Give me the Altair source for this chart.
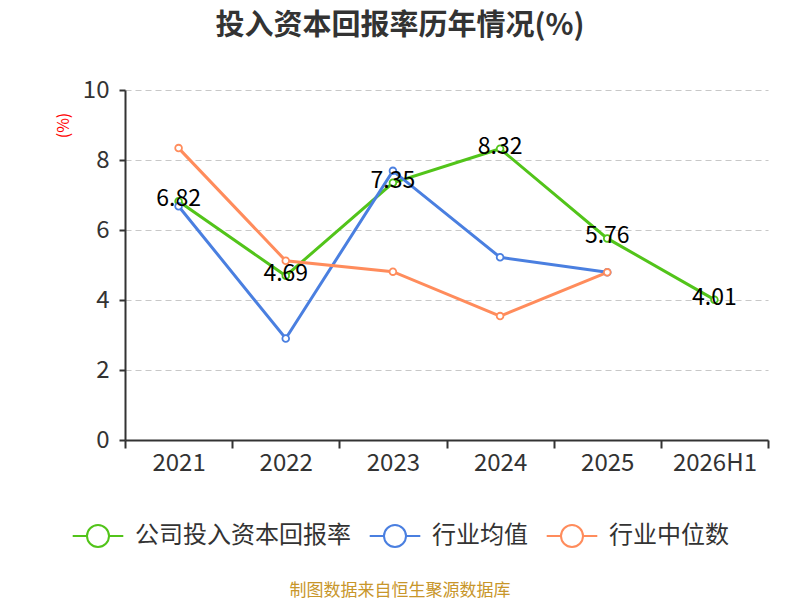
import altair as alt
import pandas as pd

years = ["2021", "2022", "2023", "2024", "2025", "2026H1"]
company = [6.82, 4.69, 7.35, 8.32, 5.76, 4.01]
industry_avg = [6.68, 2.90, 7.69, 5.22, 4.79, None]
industry_median = [8.34, 5.12, 4.81, 3.54, 4.79, None]

series_names = ["公司投入资本回报率", "行业均值", "行业中位数"]
colors = ["#52c41a", "#4a7fe0", "#ff8c5c"]

rows = []
for name, vals in zip(series_names, [company, industry_avg, industry_median]):
    for i, (y, v) in enumerate(zip(years, vals)):
        if v is not None:
            rows.append({"year": y, "value": v, "series": name, "order": series_names.index(name)})
df = pd.DataFrame(rows)
label_df = pd.DataFrame({"year": years, "value": company, "label": [f"{v:.2f}" for v in company]})

FONT = "Noto Sans CJK SC"

x_enc = alt.X("year:N", sort=years, scale=alt.Scale(domain=years, paddingInner=0, paddingOuter=0),
              axis=alt.Axis(title=None, labelFontSize=24, labelColor="#333333", labelFont=FONT,
                            labelPadding=3, labelAngle=0, domainColor="#333333", domainWidth=2,
                            tickColor="#333333", tickWidth=2, tickSize=8, tickBand="extent",
                            grid=False))
y_enc = alt.Y("value:Q", scale=alt.Scale(domain=[0, 10], nice=False),
              axis=alt.Axis(values=[0, 2, 4, 6, 8, 10], title="(%)", titleColor="#ff0000",
                            titleFontSize=16, titleFont=FONT, titleFontWeight="normal",
                            titleX=-62, titleY=35, titleAlign="center", titleBaseline="middle",
                            titleAngle=270,
                            labelFontSize=24, labelColor="#333333", labelFont=FONT, labelPadding=10,
                            domainColor="#333333", domainWidth=2, tickColor="#333333", tickWidth=2,
                            tickSize=6, grid=True, gridColor="#c8c8c8", gridDash=[6, 4], gridWidth=1.2))

color_enc = alt.Color("series:N", sort=series_names,
                      scale=alt.Scale(domain=series_names, range=colors),
                      legend=alt.Legend(title=None, orient="none", direction="horizontal",
                                        legendX=-39, legendY=434, labelFontSize=24, labelFont=FONT,
                                        labelColor="#333333", labelOffset=25, columnPadding=14,
                                        labelLimit=0,
                                        symbolType="M-2.3,0L-1,0M1,0L2.3,0M-1,0A1,1,0,1,1,1,0A1,1,0,1,1,-1,0Z",
                                        symbolSize=484, symbolFillColor="#ffffff", symbolStrokeWidth=2,
                                        padding=0))

base = alt.Chart(df)
lines = base.mark_line(strokeWidth=3).encode(x=x_enc, y=y_enc, color=color_enc, detail="series:N",
                                            order=alt.Order("order:Q"))
points = base.mark_point(filled=True, fill="white", size=45, strokeWidth=1.8, opacity=1).encode(
    x=alt.X("year:N", sort=years), y="value:Q",
    stroke=alt.Stroke("series:N", scale=alt.Scale(domain=series_names, range=colors), legend=None))

labels = alt.Chart(label_df).mark_text(fontSize=23, font=FONT, color="#000000", baseline="middle",
                                       align="center", dy=-2).encode(
    x=alt.X("year:N", sort=years), y="value:Q", text="label:N")

title = alt.Chart(pd.DataFrame({"t": ["投入资本回报率历年情况(%)"]})).mark_text(
    fontSize=29, fontWeight="bold", font=FONT, color="#333333", align="center", baseline="middle"
).encode(text="t:N", x=alt.value(275), y=alt.value(-64))

footer = alt.Chart(pd.DataFrame({"t": ["制图数据来自恒生聚源数据库"]})).mark_text(
    fontSize=17, font=FONT, color="#c8962a", align="center", baseline="middle"
).encode(text="t:N", x=alt.value(275), y=alt.value(501))

chart = alt.layer(lines, points, labels, title, footer).properties(
    width=643, height=350,
    autosize=alt.AutoSizeParams(type="none"),
    padding={"left": 117, "top": 82, "right": 24, "bottom": 160},
).configure_view(stroke=None)

chart.save("out.html", embed_options={"renderer": "svg", "actions": False})
